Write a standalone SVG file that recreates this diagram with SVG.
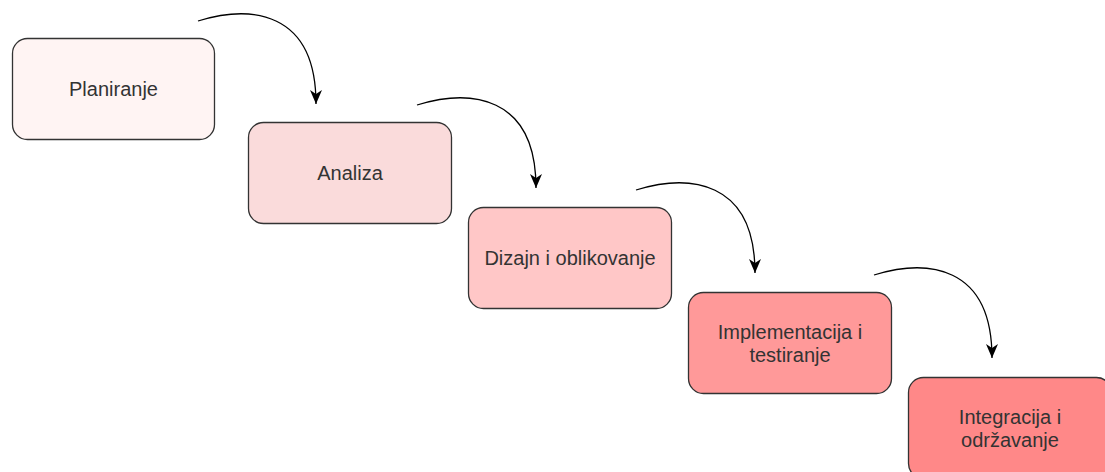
<svg xmlns="http://www.w3.org/2000/svg" width="1105" height="472" viewBox="0 0 1105 472">
<style>
.box{stroke:#333333;stroke-width:1.3}
.lbl{font-family:"Liberation Sans",Arial,sans-serif;font-size:20px;fill:#333333;text-anchor:middle}
.edge{fill:none;stroke:#000000;stroke-width:1.3}
</style>
<defs>
<marker id="arr" markerUnits="userSpaceOnUse" markerWidth="16" markerHeight="14" viewBox="0 -7 15 14" refX="14" refY="0" orient="auto">
<path d="M0,-6 L14,0 L0,6 L4,0 Z" fill="#000000"/>
</marker>
</defs>
<rect width="1105" height="472" fill="#ffffff"/>
<g id="connectors">
<path class="edge" d="M198,21 C250,5 316,10 316,104" marker-end="url(#arr)"/>
<path class="edge" d="M417,105 C469,89 536,94 536,188" marker-end="url(#arr)"/>
<path class="edge" d="M636,190 C688,174 755,179 755,273" marker-end="url(#arr)"/>
<path class="edge" d="M874,275 C926,259 992,264 992,358" marker-end="url(#arr)"/>
</g>
<g id="planiranje">
<rect class="box" x="12.5" y="38.5" width="202" height="101" rx="15" fill="#FFF4F3"/>
<text class="lbl" x="113.5" y="96">Planiranje</text>
</g>
<g id="analiza">
<rect class="box" x="248.5" y="122.5" width="203" height="101" rx="15" fill="#FADBDB"/>
<text class="lbl" x="350" y="180">Analiza</text>
</g>
<g id="dizajn">
<rect class="box" x="468.5" y="207.5" width="203" height="101" rx="15" fill="#FFC7C7"/>
<text class="lbl" x="570" y="265">Dizajn i oblikovanje</text>
</g>
<g id="implementacija">
<rect class="box" x="688.5" y="292.5" width="203" height="101" rx="15" fill="#FF9999"/>
<text class="lbl" x="790" y="339">Implementacija i</text>
<text class="lbl" x="790" y="362">testiranje</text>
</g>
<g id="integracija">
<rect class="box" x="908.5" y="377.5" width="203" height="101" rx="15" fill="#FF8888"/>
<text class="lbl" x="1010" y="424">Integracija i</text>
<text class="lbl" x="1010" y="447">održavanje</text>
</g>
</svg>
